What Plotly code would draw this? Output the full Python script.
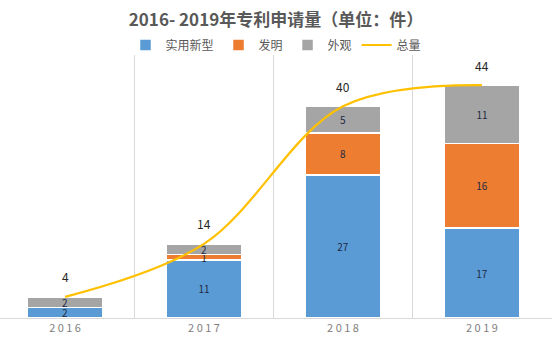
import plotly.graph_objects as go

years = ["2016", "2017", "2018", "2019"]
utility = [2, 11, 27, 17]      # 实用新型
invention = [0, 1, 8, 16]      # 发明
design = [2, 2, 5, 11]         # 外观
total = [4, 14, 40, 44]        # 总量

series = [("实用新型", utility, "#5B9BD5"),
          ("发明", invention, "#ED7D31"),
          ("外观", design, "#A5A5A5")]

xs = list(range(len(years)))
fig = go.Figure()
for name, vals, col in series:
    fig.add_trace(go.Bar(
        x=xs, y=vals, name=name, width=0.54,
        marker=dict(color=col, line=dict(color="white", width=1.5)),
        text=[str(v) if v else "" for v in vals],
        textposition="inside", insidetextanchor="middle", textangle=0,
        textfont=dict(color="#1F2A44", size=10),
        hoverinfo="skip",
    ))

fig.add_trace(go.Scatter(
    x=xs, y=total, name="总量", mode="lines",
    line=dict(color="#FFC000", width=2.2, shape="spline", smoothing=1.0),
    hoverinfo="skip",
))

for x, t in zip(xs, total):
    fig.add_annotation(x=x, y=t, text=str(t), showarrow=False, yshift=20,
                       font=dict(size=12, color="#262626"))

for b in [0.5, 1.5, 2.5]:
    fig.add_shape(type="line", xref="x", yref="paper", x0=b, x1=b, y0=0, y1=1,
                  line=dict(color="#D9D9D9", width=1), layer="below")

fig.update_layout(
    width=552, height=349,
    margin=dict(l=0, r=0, t=55, b=31),
    paper_bgcolor="white", plot_bgcolor="white",
    barmode="stack", bargap=0.46,
    font=dict(family="Noto Sans CJK SC, sans-serif", color="#595959"),
    title=dict(text="<b>2016- 2019年专利申请量（单位：件）</b>", x=0.5, xanchor="center",
               y=1 - 20 / 349, yanchor="middle", font=dict(size=17, color="#595959")),
    legend=dict(orientation="h", x=0.5, xanchor="center", y=1.038, yanchor="middle",
                font=dict(size=12, color="#595959"), bgcolor="rgba(0,0,0,0)",
                itemwidth=30, traceorder="normal"),
    uniformtext=dict(minsize=10, mode="show"),
    showlegend=True,
)
fig.update_xaxes(range=[-0.468, 3.504], tickvals=xs,
                 ticktext=[" ".join(y) for y in years],
                 tickfont=dict(size=11, color="#7F7F7F"),
                 showgrid=False, zeroline=False, showline=True,
                 linecolor="#D9D9D9", linewidth=1, ticks="", fixedrange=True)
fig.update_yaxes(range=[0, 49.7], visible=False, showgrid=False, zeroline=False)

fig.write_html("out.html")
